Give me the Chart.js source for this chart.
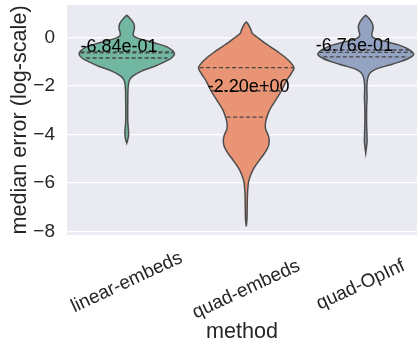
<!DOCTYPE html>
<html>
<head>
<meta charset="utf-8">
<script src="https://cdn.jsdelivr.net/npm/chart.js@4.4.1/dist/chart.umd.min.js"></script>
<style>
  html, body { margin: 0; padding: 0; background: #fff; }
</style>
</head>
<body>
<canvas id="myChart" width="417" height="346"></canvas>
<script>
const methods = ['linear-embeds', 'quad-embeds', 'quad-OpInf'];
const medians = [-0.684, -2.20, -0.676];
const quartiles = [[-0.60, -0.64, -0.85], [-1.25, -2.20, -3.29], [-0.52, -0.62, -0.80]];
const quartileHalfWidths = [[0.385, 0.39, 0.34], [0.39, 0.295, 0.165], [0.375, 0.39, 0.355]];
const yTicks = [-8, -6, -4, -2, 0];

// violin outlines: log-error level and density half-width (category units)
const linearLevels = [0.92, 0.82, 0.68, 0.52, 0.36, 0.2, 0.08, -0.03, -0.13, -0.25, -0.4, -0.55, -0.68, -0.85, -1.0, -1.2, -1.4, -1.6, -1.8, -2.2, -2.6, -3.0, -3.5, -3.8, -4.05, -4.25, -4.36];
const linearWidths = [0, 0.02, 0.045, 0.062, 0.064, 0.056, 0.055, 0.09, 0.16, 0.25, 0.34, 0.385, 0.40, 0.375, 0.32, 0.23, 0.12, 0.05, 0.02, 0.01, 0.009, 0.008, 0.009, 0.014, 0.015, 0.007, 0];
const quadLevels = [0.65, 0.5, 0.3, 0.17, -0.1, -0.38, -0.6, -0.8, -1.06, -1.26, -1.5, -1.8, -2.2, -2.6, -3.0, -3.3, -3.55, -3.8, -4.05, -4.3, -4.55, -4.8, -5.1, -5.4, -5.7, -6.0, -6.5, -7.0, -7.5, -7.8];
const quadWidths = [0, 0.022, 0.04, 0.05, 0.12, 0.2, 0.265, 0.32, 0.375, 0.40, 0.375, 0.335, 0.295, 0.245, 0.195, 0.172, 0.16, 0.163, 0.185, 0.192, 0.18, 0.15, 0.105, 0.063, 0.035, 0.018, 0.01, 0.008, 0.006, 0];
const opinfLevels = [0.92, 0.8, 0.62, 0.45, 0.28, 0.12, 0.0, -0.1, -0.2, -0.32, -0.46, -0.6, -0.72, -0.86, -1.0, -1.15, -1.3, -1.45, -1.65, -2.0, -2.5, -2.8, -3.5, -4.0, -4.3, -4.55, -4.77];
const opinfWidths = [0, 0.025, 0.05, 0.062, 0.058, 0.05, 0.06, 0.11, 0.19, 0.28, 0.35, 0.39, 0.40, 0.36, 0.29, 0.19, 0.09, 0.04, 0.018, 0.009, 0.011, 0.008, 0.007, 0.01, 0.011, 0.006, 0];

const violins = [
  { levels: linearLevels, widths: linearWidths },
  { levels: quadLevels, widths: quadWidths },
  { levels: opinfLevels, widths: opinfWidths },
];

const colors = ['#72b7a1', '#e99575', '#95a3c3'];
const edge = '#4d4d4d';
const textColor = '#262626';
const fontFamily = '"Liberation Sans", Arial, sans-serif';
// where the median labels sit relative to each violin (x in category units, y in px)
const labelShift = [[-0.065, -2], [0.02, 1], [-0.095, -3]];
// small nudges (px) of the rotated category labels
const tickNudge = [[0, 0], [0, 8], [-5, 8]];

const datasets = [];
violins.forEach((v, i) => {
  const right = v.levels.map((y, k) => ({ x: i + v.widths[k], y: y }));
  const left = v.levels.map((y, k) => ({ x: i - v.widths[k], y: y })).reverse();
  datasets.push({
    data: right.concat(left),
    backgroundColor: colors[i],
    borderColor: edge,
    borderWidth: 1.5,
    fill: 'shape',
    tension: 0.3,
    pointRadius: 0,
    order: 2,
  });
});
quartiles.forEach((qs, i) => {
  qs.forEach((q, k) => {
    const w = quartileHalfWidths[i][k];
    datasets.push({
      data: [{ x: i - w, y: q }, { x: i + w, y: q }],
      borderColor: '#454545',
      borderWidth: 1.3,
      borderDash: [4, 2.5],
      fill: false,
      pointRadius: 0,
      order: 1,
    });
  });
});

function sci(v) {
  const e = Math.floor(Math.log10(Math.abs(v)));
  const m = v / Math.pow(10, e);
  return m.toFixed(2) + 'e' + (e < 0 ? '-' : '+') + String(Math.abs(e)).padStart(2, '0');
}

const bgPlugin = {
  id: 'bg',
  beforeDraw(chart) {
    const { ctx, chartArea: a } = chart;
    ctx.save();
    ctx.fillStyle = '#eaeaf2';
    ctx.fillRect(a.left, a.top, a.right - a.left, a.bottom - a.top);
    ctx.restore();
  }
};

const textPlugin = {
  id: 'texts',
  afterDatasetsDraw(chart) {
    const { ctx, scales: { x, y } } = chart;
    ctx.save();
    ctx.font = '18px ' + fontFamily;
    ctx.fillStyle = '#000';
    ctx.textAlign = 'center';
    ctx.textBaseline = 'alphabetic';
    medians.forEach((m, i) => {
      ctx.fillText(sci(m), x.getPixelForValue(i + labelShift[i][0]), y.getPixelForValue(m) + labelShift[i][1]);
    });
    ctx.restore();
  },
  afterDraw(chart) {
    const { ctx, scales: { x } } = chart;
    const theta = 25 * Math.PI / 180;
    const size = 19;
    ctx.save();
    ctx.font = size + 'px ' + fontFamily;
    ctx.fillStyle = textColor;
    ctx.textAlign = 'center';
    ctx.textBaseline = 'middle';
    methods.forEach((name, i) => {
      const w = ctx.measureText(name).width;
      const h = size * 1.15;
      const H = w * Math.sin(theta) + h * Math.cos(theta);
      const cx = x.getPixelForValue(i) + tickNudge[i][0];
      const cy = chart.chartArea.bottom + 12 + H / 2 + tickNudge[i][1];
      ctx.save();
      ctx.translate(cx, cy);
      ctx.rotate(-theta);
      ctx.fillText(name, 0, 0);
      ctx.restore();
    });
    ctx.restore();
  }
};

new Chart(document.getElementById('myChart').getContext('2d'), {
  type: 'line',
  data: { datasets: datasets },
  options: {
    responsive: false,
    devicePixelRatio: 1,
    animation: false,
    events: [],
    layout: { padding: { top: 5, left: 0, right: 0, bottom: 0 } },
    plugins: {
      legend: { display: false },
      tooltip: { enabled: false },
    },
    scales: {
      x: {
        type: 'linear',
        min: -0.5,
        max: 2.429,
        grid: { display: false },
        border: { display: false },
        ticks: { display: false },
        title: {
          display: true,
          text: 'method',
          color: textColor,
          font: { family: fontFamily, size: 21.6 },
          padding: { top: 0, bottom: 1 },
        },
        afterFit: s => { s.height = 111; s.paddingLeft = 0; s.paddingRight = 0; },
      },
      y: {
        type: 'linear',
        min: -8.149,
        max: 1.336,
        afterBuildTicks: s => { s.ticks = yTicks.map(v => ({ value: v })); },
        ticks: {
          color: textColor,
          font: { family: fontFamily, size: 19 },
          padding: 12,
          callback: v => (v < 0 ? '\u2212' + Math.abs(v) : String(v)),
        },
        grid: { color: '#ffffff', lineWidth: 1.3, drawTicks: false },
        border: { display: false },
        title: {
          display: true,
          text: 'median error (log-scale)',
          color: textColor,
          font: { family: fontFamily, size: 21.6 },
          padding: { top: 7, bottom: 0 },
        },
        afterFit: s => { s.width = 67; s.paddingTop = 0; s.paddingBottom = 0; },
      },
    },
  },
  plugins: [bgPlugin, textPlugin],
});
</script>
</body>
</html>
